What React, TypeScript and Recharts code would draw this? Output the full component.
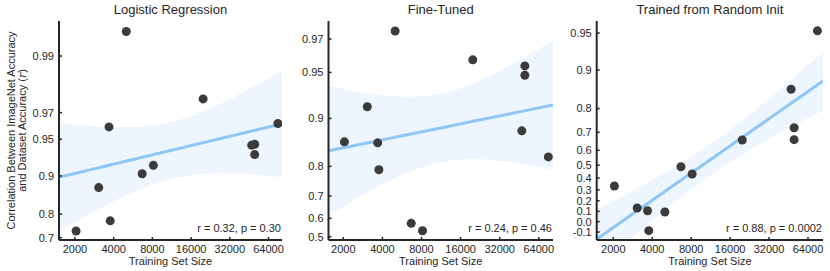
import { ComposedChart, Area, Line, Scatter, XAxis, YAxis } from 'recharts'

// datasets, in order of training set size
const datasetNames = ['Flowers', 'Caltech-101', 'Pets', 'DTD', 'VOC2007', 'Aircraft', 'Cars', 'SUN397', 'Birdsnap', 'CIFAR-10', 'CIFAR-100', 'Food-101']
const trainSizes = [2040, 3060, 3680, 3760, 5011, 6667, 8144, 19850, 47386, 50000, 50000, 75750]

// correlation between ImageNet accuracy and dataset accuracy
const logisticR = [0.732, 0.876, 0.9605, 0.775, 0.9938, 0.904, 0.918, 0.977, 0.944, 0.945, 0.933, 0.963]
const fineTunedR = [0.859, 0.916, 0.857, 0.79, 0.9735, 0.574, 0.534, 0.9587, 0.88, 0.9547, 0.9478, 0.825]
const randomInitR = [0.333, 0.132, 0.106, -0.087, 0.094, 0.488, 0.433, 0.66, 0.858, 0.722, 0.662, 0.952]

const xTicks = [2000, 4000, 8000, 16000, 32000, 64000]
const logisticTicks = ['0.7', '0.8', '0.9', '0.95', '0.97', '0.99']
const fineTunedTicks = ['0.5', '0.6', '0.7', '0.8', '0.9', '0.95', '0.97']
const randomInitTicks = ['-0.1', '0.0', '0.1', '0.2', '0.3', '0.4', '0.5', '0.6', '0.7', '0.8', '0.9', '0.95']

const titles = ['Logistic Regression', 'Fine-Tuned', 'Trained from Random Init']
const statLabels = ['r = 0.32, p = 0.30', 'r = 0.24, p = 0.46', 'r = 0.88, p = 0.0002']

const FONT = '"Liberation Sans", Arial, Helvetica, sans-serif'
const TEXT = '#262626'
const LINE_BLUE = '#8ec6f6'
const DOT = '#3b3b3b'

type PanelConfig = {
  left: number
  width: number
  axisWidth: number
  right: number
  xDomainLog2: [number, number]
  zDomain: [number, number]
  values: number[]
  tickLabels: string[]
  title: string
  stat: string
}

const panels: PanelConfig[] = [
  { left: 0, width: 290, axisWidth: 59, right: 8, xDomainLog2: [10.553, 16.315], zDomain: [0.8448, 2.9897], values: logisticR, tickLabels: logisticTicks, title: titles[0], stat: statLabels[0] },
  { left: 290, width: 270, axisWidth: 38.5, right: 7, xDomainLog2: [10.587, 16.329], zDomain: [0.5235, 2.233], values: fineTunedR, tickLabels: fineTunedTicks, title: titles[1], stat: statLabels[1] },
  { left: 560, width: 270, axisWidth: 36.7, right: 7, xDomainLog2: [10.54, 16.351], zDomain: [-0.1777, 1.9485], values: randomInitR, tickLabels: randomInitTicks, title: titles[2], stat: statLabels[2] },
]

const TOP = 21
const X_AXIS_H = 31
const HEIGHT = 271

// fit z = a + b * log2(size), with a confidence band around it
function buildFit(values: number[], domain: [number, number]) {
  const lx = trainSizes.map((s) => Math.log2(s))
  const zs = values.map((v) => Math.atanh(v))
  const n = lx.length
  const mx = lx.reduce((s, v) => s + v, 0) / n
  const mz = zs.reduce((s, v) => s + v, 0) / n
  let sxx = 0
  let sxz = 0
  lx.forEach((x, i) => {
    sxx += (x - mx) ** 2
    sxz += (x - mx) * (zs[i] - mz)
  })
  const b = sxz / sxx
  const a = mz - b * mx
  const sse = lx.reduce((s, x, i) => s + (zs[i] - (a + b * x)) ** 2, 0)
  const sd = Math.sqrt(sse / (n - 2))
  // bootstrap bands come out a bit narrower than the t interval
  const t = 1.85
  const steps = 60
  const rows = []
  for (let k = 0; k <= steps; k++) {
    const lg = domain[0] + ((domain[1] - domain[0]) * k) / steps
    const fit = a + b * lg
    const half = t * sd * Math.sqrt(1 / n + (lg - mx) ** 2 / sxx)
    rows.push({ x: 2 ** lg, z: fit, band: [fit - half, fit + half] })
  }
  return rows
}

function Panel({ cfg }: { cfg: PanelConfig }) {
  const fitRows = buildFit(cfg.values, cfg.xDomainLog2)
  const points = trainSizes.map((s, i) => ({ name: datasetNames[i], x: s, z: Math.atanh(cfg.values[i]) }))
  const yTicks = cfg.tickLabels.map((l) => Math.atanh(Number(l)))
  const formatY = (v: number) => {
    let best = 0
    yTicks.forEach((t, i) => {
      if (Math.abs(t - v) < Math.abs(yTicks[best] - v)) best = i
    })
    return cfg.tickLabels[best]
  }

  return (
    <div style={{ position: 'absolute', left: cfg.left, top: 0 }}>
      <ComposedChart
        width={cfg.width}
        height={HEIGHT}
        data={fitRows}
        margin={{ top: TOP, right: cfg.right, bottom: 0, left: 0 }}
      >
        <XAxis
          dataKey="x"
          type="number"
          scale="log"
          domain={[2 ** cfg.xDomainLog2[0], 2 ** cfg.xDomainLog2[1]]}
          allowDataOverflow
          ticks={xTicks}
          interval={0}
          height={X_AXIS_H}
          tickSize={-3}
          tickMargin={8}
          axisLine={{ stroke: TEXT, strokeWidth: 2 }}
          tickLine={{ stroke: TEXT, strokeWidth: 1.5 }}
          tick={{ fill: TEXT, fontSize: 11, fontFamily: FONT }}
        />
        <YAxis
          type="number"
          domain={cfg.zDomain}
          allowDataOverflow
          ticks={yTicks}
          interval={0}
          width={cfg.axisWidth}
          tickFormatter={formatY}
          tickSize={-3}
          tickMargin={8}
          axisLine={{ stroke: TEXT, strokeWidth: 2 }}
          tickLine={{ stroke: TEXT, strokeWidth: 1.5 }}
          tick={{ fill: TEXT, fontSize: 11, fontFamily: FONT }}
        />
        <Area
          dataKey="band"
          type="linear"
          stroke="none"
          fill={LINE_BLUE}
          fillOpacity={0.16}
          isAnimationActive={false}
        />
        <Line
          dataKey="z"
          type="linear"
          stroke={LINE_BLUE}
          strokeWidth={3}
          dot={false}
          isAnimationActive={false}
        />
        <Scatter
          data={points}
          dataKey="z"
          isAnimationActive={false}
          shape={(p: any) => <circle cx={p.cx} cy={p.cy} r={4.5} fill={DOT} />}
        />
      </ComposedChart>
    </div>
  )
}

export default function App() {
  return (
    <div style={{ position: 'absolute', left: 0, top: 0, width: 830, height: HEIGHT, background: '#fff', fontFamily: FONT }}>
      {panels.map((cfg) => (
        <Panel key={cfg.title} cfg={cfg} />
      ))}
      <svg width={830} height={HEIGHT} style={{ position: 'absolute', left: 0, top: 0, pointerEvents: 'none' }}>
        {panels.map((cfg) => {
          const plotLeft = cfg.left + cfg.axisWidth
          const plotRight = cfg.left + cfg.width - cfg.right
          const cx = (plotLeft + plotRight) / 2
          return (
            <g key={cfg.title} fontFamily={FONT} fill={TEXT}>
              <text x={cx} y={13.5} fontSize={13} textAnchor="middle">{cfg.title}</text>
              <text x={plotRight - 1} y={232} fontSize={11} textAnchor="end">{cfg.stat}</text>
              <text x={cx} y={265} fontSize={11} textAnchor="middle">Training Set Size</text>
            </g>
          )
        })}
        <g fontFamily={FONT} fill={TEXT} fontSize={11}>
          <text transform="translate(15, 130.5) rotate(-90)" textAnchor="middle">Correlation Between ImageNet Accuracy</text>
          <text transform="translate(26, 130.5) rotate(-90)" textAnchor="middle">
            and Dataset Accuracy (<tspan fontStyle="italic" fontFamily="'DejaVu Serif', serif">r</tspan>)
          </text>
        </g>
      </svg>
    </div>
  )
}
